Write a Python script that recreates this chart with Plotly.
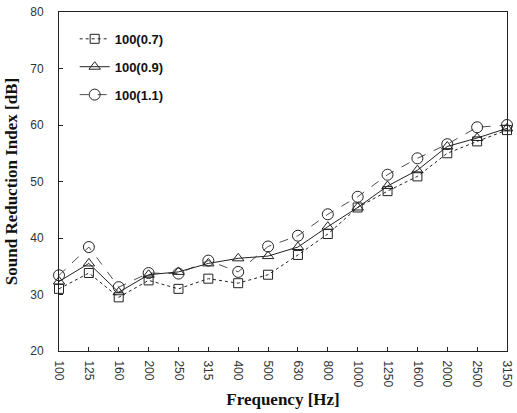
import plotly.graph_objects as go

# One-third-octave band centre frequencies
frequencies = ["100", "125", "160", "200", "250", "315", "400", "500", "630",
               "800", "1000", "1250", "1600", "2000", "2500", "3150"]

# Sound reduction index [dB] for each specimen
sri_07 = [31.0, 33.8, 29.5, 32.5, 31.0, 32.8, 32.0, 33.5, 37.0, 40.7, 45.4,
          48.3, 50.9, 55.0, 57.1, 59.1]
sri_09 = [32.3, 35.5, 30.4, 33.5, 34.0, 35.5, 36.4, 36.8, 38.4, 42.0, 45.4,
          49.2, 52.0, 56.2, 57.7, 59.4]
sri_11 = [33.4, 38.4, 31.3, 33.8, 33.7, 36.0, 34.0, 38.5, 40.4, 44.2, 47.3,
          51.2, 54.1, 56.6, 59.6, 60.0]

series_names = ["100(0.7)", "100(0.9)", "100(1.1)"]
x_pos = list(range(len(frequencies)))

fig = go.Figure()
styles = [
    (sri_07, "square-open", "dot", 1.0, 9),
    (sri_09, "triangle-up-open", "solid", 1.0, 10),
    (sri_11, "circle-open", "dash", 0.8, 11),
]
for i, (name, (vals, sym, dash, lw, ms)) in enumerate(zip(series_names, styles)):
    fig.add_trace(go.Scatter(
        x=x_pos, y=vals, name=f"<b>{name}</b>", mode="lines+markers",
        legendgroup=f"g{i}",
        line=dict(color="#222222", width=lw, dash=dash),
        marker=dict(symbol=sym, size=ms, color="#222222",
                    line=dict(color="#222222", width=1)),
        cliponaxis=False,
    ))

fig.update_layout(
    width=517, height=413,
    margin=dict(l=59, r=3, t=12, b=62),
    paper_bgcolor="white", plot_bgcolor="white",
    showlegend=True,
    legend=dict(x=0.035, y=0.965, xanchor="left", yanchor="top",
                bgcolor="rgba(0,0,0,0)", borderwidth=0,
                font=dict(family="Liberation Sans, Arial", size=13, color="#111"),
                tracegroupgap=8, itemwidth=30),
    xaxis=dict(
        range=[0, 15], tickmode="array", tickvals=x_pos, ticktext=frequencies,
        tickangle=90, ticks="inside", ticklen=4, tickcolor="#222",
        ticklabelstandoff=6, ticklabeloverflow="allow",
        showline=True, linecolor="#222", linewidth=1, mirror=True,
        showgrid=False, zeroline=False,
        tickfont=dict(family="Liberation Sans, Arial", size=12, color="#333"),
        title=dict(text="<b>Frequency [Hz]</b>", standoff=6,
                   font=dict(family="Liberation Serif, Times New Roman", size=17, color="#111")),
    ),
    yaxis=dict(
        range=[20, 80], tickvals=[20, 30, 40, 50, 60, 70, 80],
        ticks="inside", ticklen=4, tickcolor="#222",
        ticklabelstandoff=12,
        showline=True, linecolor="#222", linewidth=1, mirror=True,
        showgrid=False, zeroline=False,
        tickfont=dict(family="Liberation Sans, Arial", size=12, color="#333"),
        title=dict(text="<b>Sound Reduction Index [dB]</b>", standoff=8,
                   font=dict(family="Liberation Serif, Times New Roman", size=17, color="#111")),
    ),
)

fig.write_html("out.html")
